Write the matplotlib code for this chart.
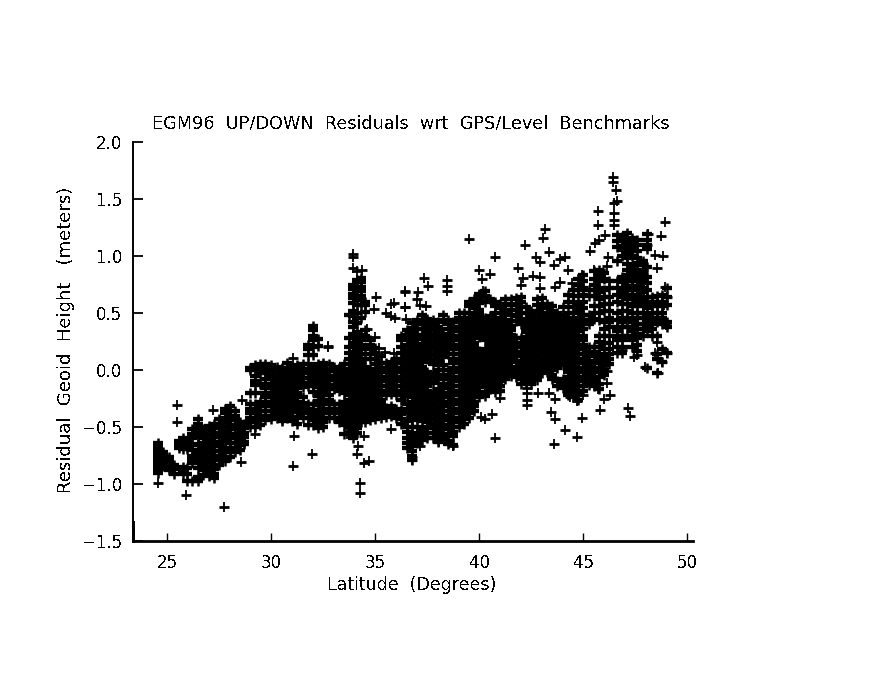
#!/usr/bin/env python3

# imports
import matplotlib
matplotlib.use('Agg')
import matplotlib.pyplot as plt

plt.rcParams['font.family'] = ['DejaVu Sans']
plt.rcParams['text.antialiased'] = False

title = 'EGM96  UP/DOWN  Residuals  wrt  GPS/Level  Benchmarks'
xlabel = 'Latitude  (Degrees)'
ylabel = 'Residual  Geoid  Height   (meters)'
xticks = [25, 30, 35, 40, 45, 50]
yticks = [-1.5, -1.0, -0.5, 0.0, 0.5, 1.0, 1.5, 2.0]

# single benchmarks standing clear of the cloud
single_lat = [24.55, 25.47, 25.47, 25.9, 27.74, 27.2, 28.59, 28.54, 29.2, 31.02, 31.07, 31.95, 32.7,
              31.02, 34.25, 34.25, 34.47, 34.68, 34.1, 34.15, 34.47, 33.64, 35.75, 35.88, 33.9, 33.9,
              33.9, 34.12, 34.36, 32.7, 35.03, 36.4, 35.88, 35.75, 36.44, 35.53, 35.75, 35.96, 36.49,
              36.6, 34.92, 34.6, 35.0, 35.16, 35.48, 46.43, 46.4, 46.55, 46.62, 46.49, 45.72, 46.46,
              46.46, 46.46, 45.69, 48.94, 43.14, 43.04, 39.49, 42.18, 48.09, 48.72, 48.06, 45.74,
              45.58, 46.02, 45.3, 43.33, 40.74, 42.7, 42.9, 44.1, 43.87, 43.58, 46.2, 48.46, 48.83,
              48.54, 40.0, 40.49, 40.12, 41.86, 42.1, 42.58, 42.93, 44.24, 37.36, 37.53, 38.45,
              38.45, 38.45, 36.4, 37.03, 37.0, 36.44, 37.13, 37.45, 40.17, 41.98, 42.93, 43.65,
              43.87, 44.46, 44.94, 45.5, 45.82, 46.14, 48.94, 49.02, 48.86, 48.97, 48.54, 49.0,
              48.46, 47.58, 46.86, 48.57, 47.98, 47.43, 48.8, 46.14, 46.14, 45.69, 45.47, 46.3,
              46.0, 45.8, 47.13, 47.26, 44.94, 43.46, 43.65, 44.1, 44.69, 43.58, 40.77, 40.61,
              40.29, 40.08, 40.97, 42.29, 42.3, 42.3, 42.3, 42.82, 43.37, 43.65, 44.38, 44.69,
              45.0, 41.09, 40.77, 38.74, 37.16, 36.76, 36.76, 38.05]
single_res = [-0.99, -0.31, -0.46, -1.1, -1.205, -0.35, -0.26, -0.81, -0.56, -0.84, -0.58, -0.74, 0.21,
              0.105, -0.99, -1.08, -0.82, -0.795, -0.74, -0.67, -0.58, -0.56, -0.52, 0.146, 1.02, 0.99,
              0.895, 0.87, 0.877, 0.204, 0.638, 0.687, 0.59, 0.58, 0.555, 0.497, 0.474, 0.453, 0.444,
              0.333, 0.532, 0.357, 0.292, 0.19, 0.16, 1.696, 1.652, 1.58, 1.485, 1.462, 1.397, 1.38,
              1.316, 1.27, 1.27, 1.3, 1.237, 1.16, 1.152, 1.1, 1.193, 1.175, 1.1, 1.14, 1.11, 1.184,
              1.04, 1.035, 0.995, 0.99, 0.95, 0.99, 0.97, 0.918, 0.995, 1.009, 1.0, 0.892, 0.875,
              0.842, 0.796, 0.892, 0.804, 0.824, 0.813, 0.875, 0.807, 0.737, 0.79, 0.737, 0.693,
              0.693, 0.68, 0.623, 0.555, 0.57, 0.56, 0.693, 0.746, 0.717, 0.73, 0.775, 0.765, 0.833,
              0.877, 0.833, 0.912, 0.725, 0.638, 0.57, 0.395, 0.248, 0.146, 0.146, 0.13, 0.175,
              -0.03, 0.024, 0.117, 0.07, -0.006, -0.117, -0.17, -0.094, -0.22, -0.257, -0.35, -0.33,
              -0.403, -0.424, -0.37, -0.433, -0.53, -0.585, -0.649, -0.6, -0.386, -0.43, -0.41,
              -0.243, -0.307, -0.26, -0.2, -0.16, -0.2, -0.2, -0.254, -0.24, -0.27, -0.22, -0.08,
              -0.13, -0.667, -0.667, -0.76, -0.79, -0.63]

# cloud south of 30 degrees, one list of residuals per latitude
south_lat = [24.55, 24.8, 25.1, 25.3, 25.55, 25.75, 25.95, 26.2, 26.45, 26.7, 27.0, 27.25, 27.5, 27.75,
             28.0, 28.25, 28.5, 28.7, 28.95, 29.2, 29.45, 29.7]
south_res = [
    [-0.9, -0.87, -0.83, -0.8, -0.77, -0.74, -0.7, -0.67, -0.64],
    [-0.84, -0.81, -0.78, -0.75, -0.72],
    [-0.88, -0.85, -0.8, -0.76],
    [-0.91, -0.87, -0.83],
    [-0.68, -0.65, -0.62],
    [-0.91, -0.88, -0.85, -0.69, -0.66, -0.63, -0.6],
    [-0.97, -0.91, -0.86, -0.69, -0.66, -0.62],
    [-0.97, -0.82, -0.78, -0.75, -0.7, -0.66, -0.6, -0.56, -0.52],
    [-0.97, -0.94, -0.86, -0.82, -0.78, -0.74, -0.7, -0.65, -0.59, -0.55, -0.51, -0.47, -0.43],
    [-0.92, -0.88, -0.84, -0.8, -0.76, -0.72, -0.68, -0.64, -0.6, -0.56, -0.52],
    [-0.93, -0.89, -0.85, -0.81, -0.77, -0.73, -0.69, -0.65, -0.61, -0.57, -0.53, -0.49],
    [-0.95, -0.91, -0.87, -0.83, -0.79, -0.75, -0.71, -0.67, -0.63, -0.59, -0.55, -0.51, -0.47],
    [-0.83, -0.79, -0.75, -0.71, -0.67, -0.63, -0.59, -0.55, -0.51, -0.47, -0.43],
    [-0.8, -0.76, -0.72, -0.68, -0.62, -0.58, -0.54, -0.5, -0.46, -0.42, -0.38, -0.34],
    [-0.76, -0.72, -0.68, -0.64, -0.6, -0.56, -0.52, -0.48, -0.44, -0.4, -0.36, -0.32],
    [-0.72, -0.68, -0.64, -0.6, -0.56, -0.52, -0.48, -0.44, -0.4, -0.36],
    [-0.7, -0.66, -0.62, -0.58, -0.54, -0.5, -0.46],
    [-0.65, -0.63, -0.59, -0.55, -0.51, -0.47],
    [-0.5, -0.46, -0.42, -0.38, -0.34, -0.3, -0.2, 0.0, 0.02],
    [-0.5, -0.46, -0.42, -0.38, -0.34, -0.3, -0.2, -0.13, -0.1, -0.05, 0.0, 0.04],
    [-0.48, -0.44, -0.4, -0.36, -0.32, -0.28, -0.12, -0.03, 0.02, 0.05],
    [-0.44, -0.4, -0.36, -0.32, -0.28, -0.24, -0.2, -0.16, -0.12, -0.08, -0.03, 0.01, 0.05],
]

# cloud from 30 to 36 degrees
mid_lat = [30.0, 30.25, 30.5, 30.75, 31.0, 31.25, 31.5, 31.75, 32.0, 32.25, 32.5, 32.75, 33.0, 33.25,
           33.5, 33.75, 33.9, 34.1, 34.3, 34.5, 34.75, 35.0, 35.25, 35.5, 35.75, 36.0]
mid_res = [
    [-0.43, -0.4, -0.36, -0.32, -0.28, -0.24, -0.2, -0.16, -0.12, -0.08, -0.04, 0.0, 0.04],
    [-0.42, -0.38, -0.34, -0.3, -0.26, -0.22, -0.18, -0.14, -0.1, -0.06, -0.02, 0.03],
    [-0.45, -0.43, -0.39, -0.35, -0.31, -0.27, -0.23, -0.19, -0.15, -0.11, -0.07, -0.03, 0.02],
    [-0.42, -0.38, -0.34, -0.3, -0.26, -0.22, -0.18, -0.14, -0.1, -0.06, -0.02, 0.02, 0.06],
    [-0.45, -0.41, -0.37, -0.33, -0.29, -0.25, -0.21, -0.17, -0.13, -0.09, -0.05, -0.01, 0.03],
    [-0.47, -0.41, -0.37, -0.32, -0.28, -0.24, -0.2, -0.16, -0.12, -0.08, -0.04, 0.0, 0.04],
    [-0.42, -0.38, -0.33, -0.29, -0.24, -0.15, -0.11, -0.07, -0.03, 0.01, 0.05],
    [-0.48, -0.42, -0.38, -0.34, -0.3, -0.14, -0.11, -0.07, -0.03, 0.01, 0.05, 0.13, 0.18, 0.22],
    [-0.48, -0.44, -0.4, -0.35, -0.3, -0.19, -0.14, -0.1, -0.06, -0.02, 0.03, 0.13, 0.2, 0.26, 0.3, 0.35, 0.39],
    [-0.51, -0.47, -0.43, -0.39, -0.35, -0.31, -0.27, -0.23, -0.19, -0.15, -0.11, -0.07, -0.03, 0.01, 0.05, 0.21, 0.27],
    [-0.5, -0.46, -0.42, -0.38, -0.34, -0.3, -0.26, -0.22, -0.18, -0.14, -0.1, -0.06, -0.02, 0.02, 0.06],
    [-0.42, -0.38, -0.34, -0.3, -0.26, -0.22, -0.17, -0.13, -0.09, -0.05, -0.01, 0.05],
    [-0.42, -0.38, -0.34, -0.3, -0.17, -0.13, -0.09, -0.05, -0.01, 0.03],
    [-0.46, -0.42, -0.38, -0.34, -0.3, -0.18, -0.14, -0.1, -0.06, -0.02, 0.02],
    [-0.56, -0.48, -0.44, -0.4, -0.36, -0.32, -0.28, -0.2, -0.16, -0.12, -0.08, -0.04, 0.0, 0.05],
    [-0.55, -0.5, -0.46, -0.42, -0.38, -0.34, -0.3, -0.26, -0.22, -0.18, -0.14, -0.1, -0.07, -0.03, 0.01, 0.05, 0.1, 0.15, 0.2, 0.28, 0.48],
    [-0.6, -0.56, -0.52, -0.48, -0.44, -0.4, -0.36, -0.32, -0.28, -0.24, -0.2, -0.16, -0.12, -0.08, -0.04, 0.0, 0.04, 0.08, 0.12, 0.16, 0.2, 0.24, 0.28, 0.32, 0.38, 0.42, 0.47, 0.52, 0.59, 0.63, 0.67, 0.71, 0.75],
    [-0.55, -0.51, -0.47, -0.43, -0.39, -0.35, -0.31, -0.27, -0.23, -0.19, -0.15, -0.11, -0.07, -0.03, 0.01, 0.05, 0.09, 0.13, 0.17, 0.21, 0.25, 0.29, 0.33, 0.41, 0.46, 0.5, 0.57, 0.61, 0.65, 0.69, 0.73, 0.77, 0.79],
    [-0.46, -0.42, -0.38, -0.34, -0.3, -0.26, -0.22, -0.18, -0.14, -0.1, -0.06, -0.02, 0.02, 0.06, 0.1, 0.14, 0.18, 0.22, 0.26, 0.31, 0.46, 0.57, 0.61, 0.65, 0.69, 0.73, 0.77, 0.81],
    [-0.46, -0.41, -0.37, -0.33, -0.29, -0.25, -0.21, -0.17, -0.13, -0.09, -0.05, -0.01, 0.03, 0.1, 0.19, 0.3, 0.35, 0.51, 0.57, 0.6],
    [-0.44, -0.4, -0.36, -0.32, -0.28, -0.24, -0.2, -0.16, -0.12, -0.08, -0.04, 0.0, 0.1, 0.14, 0.18, 0.22, 0.26],
    [-0.43, -0.39, -0.35, -0.31, -0.27, -0.23, -0.19, -0.15, -0.11, -0.07, -0.03, 0.01, 0.05, 0.1, 0.15, 0.19],
    [-0.42, -0.38, -0.34, -0.3, -0.26, -0.22, -0.18, -0.14, -0.1, -0.06, -0.02, 0.02, 0.06, 0.12],
    [-0.41, -0.37, -0.33, -0.22, -0.18, -0.14, -0.1, -0.06, -0.02, 0.02, 0.06],
    [-0.4, -0.36, -0.32, -0.21, -0.17, -0.13, -0.09, -0.05, -0.01, 0.03, 0.07],
    [-0.42, -0.38, -0.34, -0.22, -0.18, -0.14, -0.1, -0.06, -0.02, 0.02, 0.06, 0.1],
]

# cloud north of 36 degrees
north_lat = [36.25, 36.5, 36.75, 37.0, 37.25, 37.5, 37.75, 38.0, 38.25, 38.5, 38.75, 39.0, 39.25, 39.5,
             39.75, 40.0, 40.25, 40.5, 40.75, 41.0, 41.25, 41.5, 41.75, 42.0, 42.25, 42.5, 42.75,
             43.0, 43.25, 43.5, 43.75, 44.0, 44.25, 44.5, 44.75, 45.0, 45.25, 45.5, 45.75, 46.0,
             46.25, 46.6, 46.85, 47.1, 47.35, 47.6, 47.85, 48.05, 48.3, 48.55, 48.8, 49.0]
north_res = [
    [-0.47, -0.43, -0.39, -0.35, -0.26, -0.22, -0.18, -0.14, -0.1, -0.06, -0.02, 0.02, 0.06, 0.1, 0.15, 0.2, 0.26, 0.3],
    [-0.68, -0.64, -0.6, -0.54, -0.5, -0.45, -0.38, -0.34, -0.3, -0.23, -0.19, -0.15, -0.11, -0.07, -0.03, 0.01, 0.05, 0.09, 0.13, 0.17, 0.22, 0.27, 0.31, 0.35],
    [-0.79, -0.75, -0.71, -0.67, -0.62, -0.56, -0.5, -0.44, -0.4, -0.36, -0.32, -0.28, -0.24, -0.2, -0.16, -0.12, -0.08, -0.04, 0.0, 0.04, 0.08, 0.12, 0.16, 0.2, 0.24, 0.29, 0.33, 0.37, 0.41],
    [-0.64, -0.6, -0.55, -0.5, -0.42, -0.38, -0.34, -0.3, -0.26, -0.22, -0.18, -0.14, -0.1, -0.06, -0.02, 0.02, 0.06, 0.1, 0.14, 0.18, 0.22, 0.27, 0.31, 0.36, 0.4, 0.44],
    [-0.61, -0.57, -0.52, -0.45, -0.41, -0.37, -0.33, -0.29, -0.25, -0.21, -0.17, -0.13, -0.09, -0.05, -0.01, 0.03, 0.07, 0.11, 0.15, 0.19, 0.23, 0.27, 0.31, 0.36, 0.4, 0.44, 0.48],
    [-0.6, -0.55, -0.5, -0.46, -0.42, -0.38, -0.34, -0.3, -0.26, -0.22, -0.18, -0.14, -0.1, -0.06, -0.02, 0.1, 0.16, 0.2, 0.24, 0.28, 0.33, 0.37, 0.41, 0.45],
    [-0.6, -0.55, -0.51, -0.47, -0.43, -0.39, -0.35, -0.31, -0.27, -0.23, -0.19, -0.11, -0.07, -0.03, 0.05, 0.09, 0.13, 0.18, 0.22, 0.26, 0.31, 0.36, 0.4, 0.44],
    [-0.63, -0.57, -0.53, -0.49, -0.45, -0.41, -0.37, -0.33, -0.29, -0.25, -0.21, -0.17, -0.08, -0.04, 0.0, 0.04, 0.08, 0.12, 0.17, 0.21, 0.25, 0.29, 0.34, 0.38, 0.42],
    [-0.6, -0.56, -0.52, -0.48, -0.44, -0.4, -0.36, -0.32, -0.28, -0.24, -0.2, -0.16, -0.12, -0.08, -0.04, 0.0, 0.04, 0.11, 0.15, 0.2, 0.24, 0.28, 0.32, 0.44, 0.48],
    [-0.65, -0.62, -0.57, -0.52, -0.48, -0.44, -0.4, -0.36, -0.32, -0.28, -0.24, -0.2, -0.16, -0.12, -0.08, -0.04, 0.0, 0.14, 0.18, 0.23, 0.27, 0.31, 0.36, 0.4, 0.44],
    [-0.66, -0.58, -0.54, -0.5, -0.46, -0.42, -0.38, -0.34, -0.3, -0.26, -0.22, -0.18, -0.14, -0.1, -0.06, -0.02, 0.02, 0.06, 0.1, 0.14, 0.18, 0.22, 0.26, 0.3, 0.34, 0.38, 0.42],
    [-0.5, -0.46, -0.42, -0.38, -0.34, -0.3, -0.26, -0.22, -0.18, -0.14, -0.1, -0.06, -0.02, 0.02, 0.06, 0.1, 0.14, 0.18, 0.22, 0.26, 0.3, 0.34, 0.38, 0.42, 0.46, 0.5],
    [-0.47, -0.43, -0.39, -0.35, -0.31, -0.27, -0.23, -0.19, -0.15, -0.11, -0.07, -0.03, 0.01, 0.05, 0.09, 0.13, 0.17, 0.21, 0.25, 0.29, 0.33, 0.37, 0.41, 0.46, 0.5],
    [-0.42, -0.38, -0.34, -0.3, -0.26, -0.22, -0.18, -0.14, -0.1, -0.06, -0.02, 0.02, 0.06, 0.1, 0.14, 0.18, 0.22, 0.26, 0.3, 0.34, 0.38, 0.42, 0.46, 0.5, 0.56, 0.6],
    [-0.36, -0.32, -0.28, -0.24, -0.2, -0.16, -0.12, -0.08, -0.04, 0.0, 0.04, 0.08, 0.12, 0.16, 0.2, 0.24, 0.28, 0.32, 0.36, 0.4, 0.44, 0.48, 0.54, 0.58, 0.62],
    [-0.24, -0.19, -0.15, -0.11, -0.07, -0.03, 0.01, 0.05, 0.09, 0.13, 0.17, 0.29, 0.33, 0.37, 0.41, 0.45, 0.49, 0.53, 0.59, 0.63, 0.67],
    [-0.23, -0.19, -0.14, -0.1, -0.06, -0.02, 0.02, 0.06, 0.1, 0.14, 0.18, 0.26, 0.3, 0.34, 0.38, 0.42, 0.46, 0.6, 0.65, 0.69],
    [-0.17, -0.13, -0.09, -0.05, -0.01, 0.03, 0.07, 0.11, 0.15, 0.19, 0.23, 0.27, 0.31, 0.35, 0.39, 0.43, 0.47, 0.62],
    [-0.19, -0.15, -0.11, -0.07, -0.03, 0.01, 0.05, 0.09, 0.13, 0.17, 0.21, 0.25, 0.29, 0.33, 0.37, 0.41, 0.45, 0.5, 0.56, 0.6],
    [-0.18, -0.14, -0.1, -0.06, -0.02, 0.02, 0.06, 0.1, 0.14, 0.18, 0.22, 0.26, 0.3, 0.34, 0.38, 0.42, 0.46, 0.54, 0.58],
    [-0.08, -0.03, 0.0, 0.04, 0.08, 0.12, 0.16, 0.2, 0.24, 0.28, 0.32, 0.36, 0.4, 0.44, 0.49, 0.53, 0.58, 0.62],
    [-0.05, -0.01, 0.03, 0.07, 0.11, 0.15, 0.19, 0.23, 0.27, 0.31, 0.35, 0.39, 0.43, 0.48, 0.53, 0.57, 0.62],
    [-0.06, -0.02, 0.02, 0.08, 0.12, 0.16, 0.2, 0.24, 0.28, 0.43, 0.47, 0.53, 0.58, 0.63],
    [-0.12, -0.08, -0.04, 0.0, 0.04, 0.08, 0.12, 0.16, 0.2, 0.24, 0.28, 0.4, 0.44, 0.5, 0.55, 0.6, 0.64],
    [-0.11, -0.07, -0.03, 0.01, 0.05, 0.09, 0.13, 0.17, 0.21, 0.25, 0.29, 0.33, 0.37, 0.41, 0.45, 0.5, 0.55],
    [-0.12, -0.08, -0.04, 0.0, 0.04, 0.08, 0.12, 0.16, 0.2, 0.24, 0.28, 0.32, 0.36, 0.4, 0.44, 0.48, 0.52],
    [-0.09, -0.05, -0.01, 0.03, 0.07, 0.11, 0.15, 0.19, 0.23, 0.27, 0.31, 0.35, 0.39, 0.43, 0.47, 0.52, 0.57, 0.62],
    [-0.03, 0.01, 0.05, 0.09, 0.13, 0.17, 0.21, 0.25, 0.29, 0.33, 0.37, 0.41, 0.45, 0.49, 0.54, 0.58, 0.63],
    [-0.02, 0.02, 0.06, 0.1, 0.14, 0.18, 0.22, 0.26, 0.3, 0.34, 0.38, 0.42, 0.46, 0.5, 0.54, 0.58],
    [-0.08, -0.04, 0.0, 0.04, 0.08, 0.12, 0.16, 0.2, 0.24, 0.28, 0.32, 0.36, 0.4, 0.44, 0.48, 0.52, 0.56],
    [-0.14, -0.1, 0.02, 0.06, 0.1, 0.14, 0.18, 0.22, 0.26, 0.3, 0.34, 0.38, 0.42, 0.46, 0.5],
    [-0.16, -0.12, -0.08, 0.04, 0.08, 0.12, 0.16, 0.2, 0.24, 0.28, 0.32, 0.36, 0.4, 0.44, 0.48, 0.55],
    [-0.22, -0.18, -0.14, -0.1, -0.06, -0.02, 0.02, 0.06, 0.1, 0.14, 0.18, 0.22, 0.26, 0.3, 0.34, 0.38, 0.42, 0.46, 0.5, 0.6, 0.66],
    [-0.24, -0.2, -0.16, -0.12, -0.08, -0.04, 0.0, 0.04, 0.08, 0.12, 0.16, 0.2, 0.24, 0.28, 0.32, 0.36, 0.4, 0.45, 0.5, 0.55, 0.6, 0.65, 0.7],
    [-0.26, -0.22, -0.18, -0.14, -0.1, -0.06, -0.02, 0.02, 0.06, 0.1, 0.14, 0.18, 0.22, 0.26, 0.3, 0.34, 0.38, 0.42, 0.46, 0.52, 0.58, 0.65, 0.7, 0.75, 0.8],
    [-0.18, -0.14, -0.1, -0.06, -0.02, 0.02, 0.06, 0.1, 0.14, 0.18, 0.22, 0.26, 0.3, 0.36, 0.4, 0.44, 0.48, 0.54, 0.6, 0.66, 0.72, 0.78, 0.83],
    [-0.13, -0.09, -0.04, 0.0, 0.04, 0.08, 0.12, 0.16, 0.2, 0.4, 0.44, 0.48, 0.65, 0.7],
    [-0.14, -0.1, -0.06, -0.02, 0.02, 0.06, 0.12, 0.16, 0.2, 0.45, 0.5, 0.56, 0.65, 0.7, 0.75, 0.8, 0.87],
    [-0.17, -0.12, -0.06, -0.02, 0.02, 0.06, 0.1, 0.14, 0.2, 0.25, 0.3, 0.44, 0.5, 0.56, 0.62, 0.68, 0.72, 0.78, 0.83, 0.88],
    [-0.04, 0.0, 0.04, 0.08, 0.12, 0.18, 0.24, 0.3, 0.36, 0.42, 0.52, 0.58, 0.64, 0.7, 0.8, 0.85],
    [0.05, 0.1, 0.14, 0.18, 0.24, 0.3, 0.38, 0.42, 0.46, 0.52, 0.58, 0.64, 0.72, 0.78],
    [0.15, 0.2, 0.26, 0.3, 0.34, 0.38, 0.44, 0.5, 0.6, 0.66, 0.72, 0.78, 0.96, 1.08, 1.13, 1.18],
    [0.15, 0.2, 0.26, 0.3, 0.38, 0.42, 0.46, 0.52, 0.58, 0.64, 0.68, 0.72, 0.77, 0.82, 1.0, 1.05, 1.09, 1.13, 1.17],
    [0.3, 0.38, 0.42, 0.46, 0.52, 0.58, 0.62, 0.66, 0.7, 0.74, 0.78, 0.83, 0.88, 0.93, 0.98, 1.02, 1.06, 1.1, 1.15, 1.2],
    [0.2, 0.26, 0.3, 0.34, 0.38, 0.44, 0.5, 0.56, 0.62, 0.66, 0.7, 0.74, 0.78, 0.82, 0.85, 0.9, 1.0, 1.04, 1.08, 1.12, 1.16],
    [0.17, 0.22, 0.28, 0.32, 0.36, 0.4, 0.46, 0.5, 0.56, 0.6, 0.66, 0.7, 0.74, 0.78, 0.83, 0.88, 0.94, 0.98, 1.04, 1.1, 1.14],
    [0.3, 0.36, 0.4, 0.46, 0.5, 0.56, 0.62, 0.68, 0.72, 0.76, 0.8, 0.84, 0.88, 0.92, 0.96],
    [0.02, 0.34, 0.38, 0.44, 0.48, 0.54, 0.6, 0.64, 0.7, 0.76, 0.82, 0.9, 1.06, 1.1, 1.14, 1.19],
    [0.3, 0.36, 0.4, 0.46, 0.5, 0.56, 0.6, 0.64],
    [-0.03, 0.1, 0.14, 0.3, 0.42, 0.46, 0.5, 0.56, 0.6, 0.65],
    [0.07, 0.18, 0.4, 0.46, 0.5, 0.56, 0.6, 0.66],
    [0.15, 0.38, 0.42, 0.57, 0.64, 0.72],
]


def flatten(lats, res_lists):
    xs, ys = [], []
    for lat, res in zip(lats, res_lists):
        xs += [lat] * len(res)
        ys += res
    return xs, ys


fig = plt.figure(figsize=(8.7, 6.76), dpi=100)
ax = fig.add_axes([133.5 / 870, 1 - 541 / 676, (693 - 133.5) / 870, (541 - 142) / 676])

cloud_lat, cloud_res = [], []
for lats, res_lists in [(south_lat, south_res), (mid_lat, mid_res), (north_lat, north_res)]:
    xs, ys = flatten(lats, res_lists)
    cloud_lat += xs
    cloud_res += ys

# the plus sign has a heavier bar than post, so it takes two layers
# points in the cloud get a fatter bar so the overlap closes up like the original
ax.plot(cloud_lat, cloud_res, ls='none', marker='_', ms=6.8, mew=3.1, color='k', antialiased=False, clip_on=False)
ax.plot(cloud_lat, cloud_res, ls='none', marker='|', ms=6.8, mew=1.8, color='k', antialiased=False, clip_on=False)
ax.plot(single_lat, single_res, ls='none', marker='_', ms=6.5, mew=2.0, color='k', antialiased=False, clip_on=False)
ax.plot(single_lat, single_res, ls='none', marker='|', ms=6.5, mew=1.3, color='k', antialiased=False, clip_on=False)

ax.set_xlim(23.37, 50.27)
ax.set_ylim(-1.5, 2.0)
ax.set_xticks(xticks)
ax.set_xticklabels([str(t) for t in xticks])
ax.set_yticks(yticks)
ax.set_yticklabels(['%.1f' % t if t >= 0 else '\u2212%.1f' % abs(t) for t in yticks])
ax.tick_params(axis='x', direction='in', length=6, width=1, labelsize=12, pad=9)
ax.tick_params(axis='y', direction='in', length=7, width=1.3, labelsize=12, pad=8)

ax.spines['top'].set_visible(False)
ax.spines['right'].set_visible(False)
ax.spines['left'].set_linewidth(1.4)
ax.spines['bottom'].set_linewidth(2.0)
ax.plot([0, 0], [0, 0.048], transform=ax.transAxes, color='k', lw=1.8, clip_on=False, antialiased=False)

fig.text(411 / 870, 1 - 124 / 676, title, fontsize=12.7, ha='center', va='center')
fig.text(412 / 870, 1 - 585 / 676, xlabel, fontsize=12.5, ha='center', va='center')
fig.text(66 / 870, 1 - 340 / 676, ylabel, fontsize=13, ha='center', va='center', rotation=90)

plt.savefig('out.png', dpi=100)
